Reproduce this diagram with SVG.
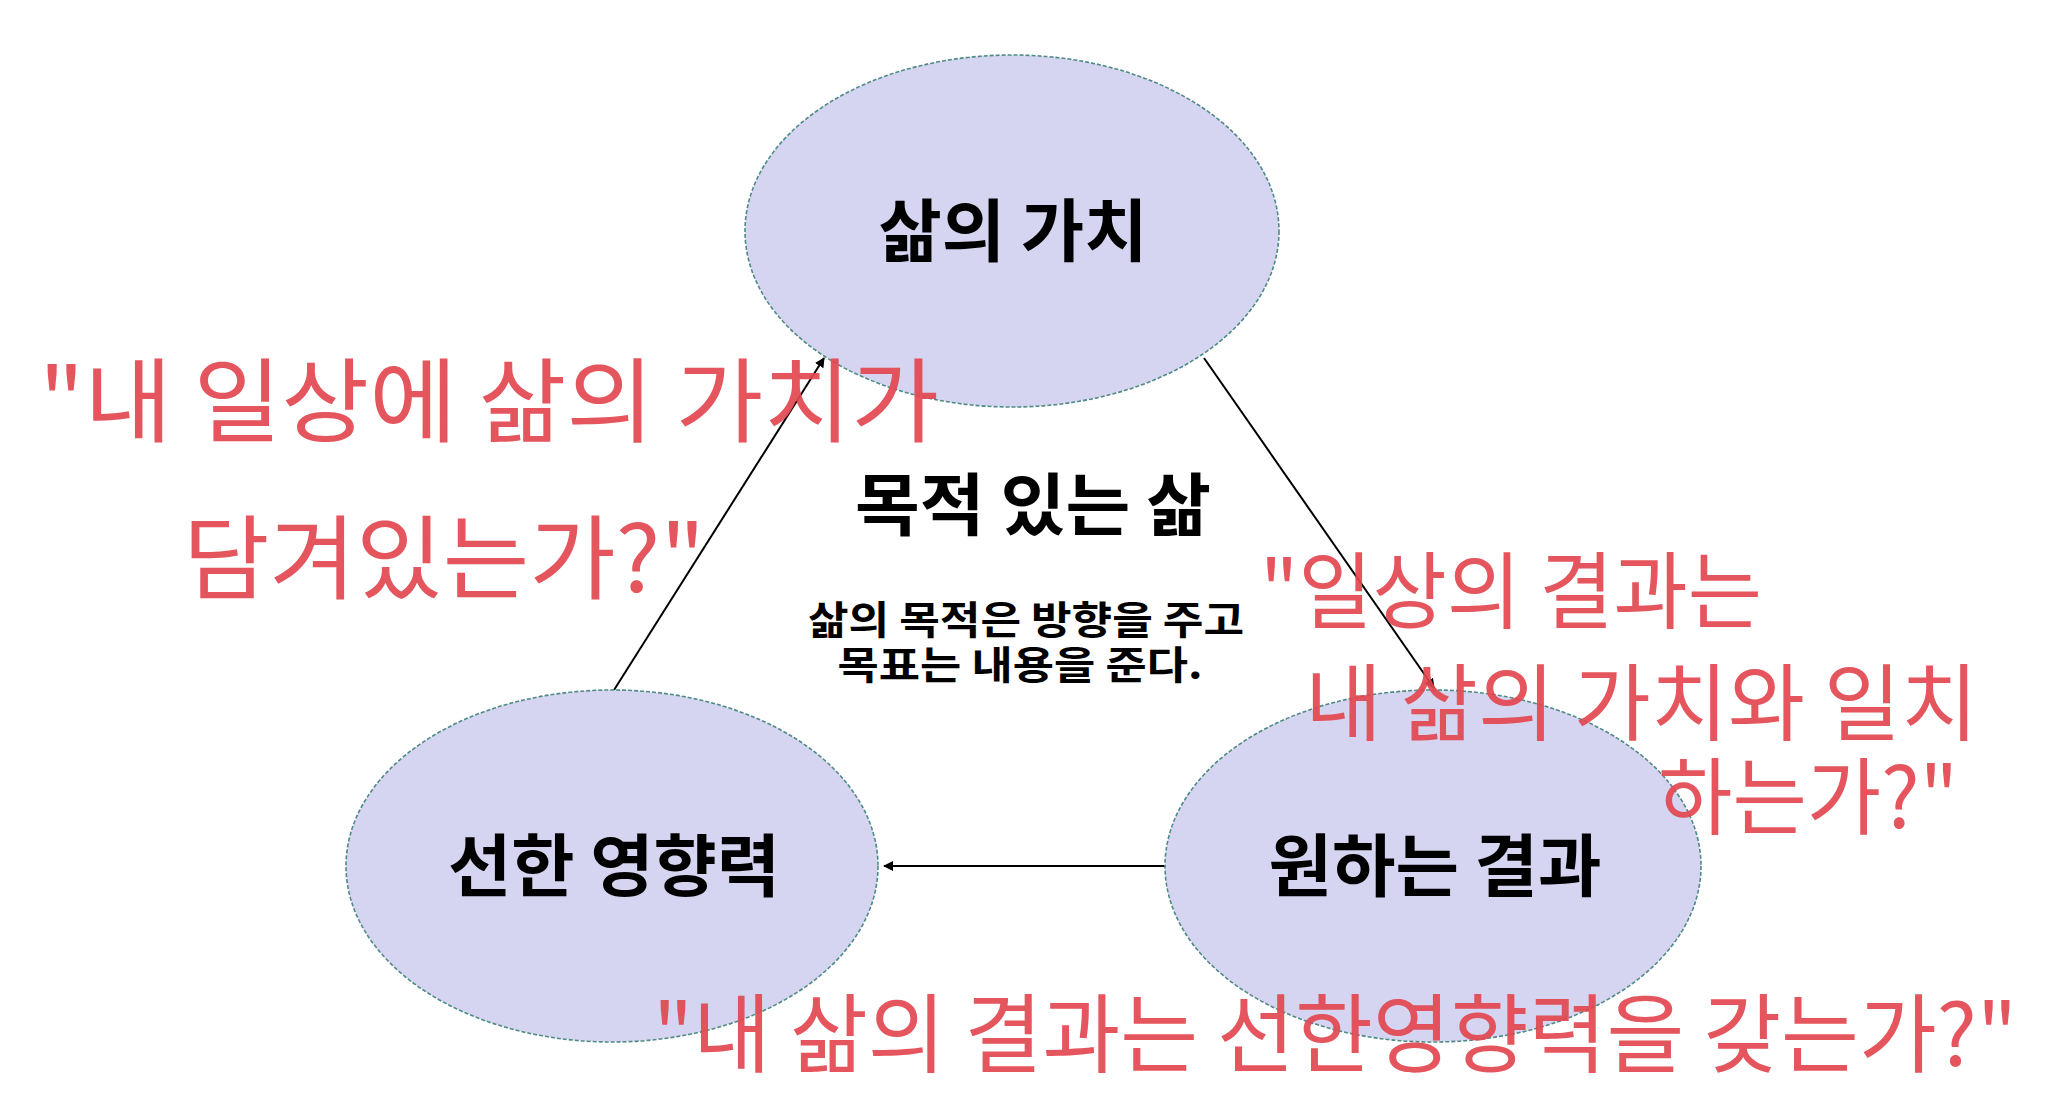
<svg xmlns="http://www.w3.org/2000/svg" width="2047" height="1108" viewBox="0 0 2047 1108">
<defs>
<style>
.node ellipse{fill:#d5d5f1;stroke:#4f8a86;stroke-width:1.6;stroke-dasharray:4 2}
.lbl{font-family:"Noto Sans CJK KR","Noto Sans",sans-serif;font-weight:700;fill:#000;text-anchor:middle}
.conn line{stroke:#000;stroke-width:2}
.hand{font-family:"Noto Sans CJK KR","Noto Sans",sans-serif;font-weight:400;fill:#e2474f;fill-opacity:0.92}
</style>
<marker id="arr" markerWidth="10" markerHeight="10" refX="9" refY="5" orient="auto" markerUnits="userSpaceOnUse" viewBox="0 0 10 10">
<path d="M0,0 L10,5 L0,10 z" fill="#000"/>
</marker>
</defs>
<rect width="2047" height="1108" fill="#fff"/>
<g id="connectors" class="conn">
<line x1="614" y1="690" x2="824" y2="358" marker-end="url(#arr)"/>
<line x1="1204" y1="358" x2="1434" y2="688" marker-end="url(#arr)"/>
<line x1="1166" y1="866" x2="884" y2="866" marker-end="url(#arr)"/>
</g>
<g id="node-value" class="node">
<ellipse cx="1012" cy="231" rx="267" ry="176"/>
<text class="lbl" x="1013" y="256" font-size="68" textLength="269" lengthAdjust="spacingAndGlyphs">삶의 가치</text>
</g>
<g id="node-influence" class="node">
<ellipse cx="612" cy="866" rx="266" ry="176"/>
<text class="lbl" x="614" y="891" font-size="68" textLength="332" lengthAdjust="spacingAndGlyphs">선한 영향력</text>
</g>
<g id="node-result" class="node">
<ellipse cx="1433" cy="866" rx="268" ry="176"/>
<text class="lbl" x="1435" y="891" font-size="68" textLength="333" lengthAdjust="spacingAndGlyphs">원하는 결과</text>
</g>
<g id="center-title">
<text class="lbl" x="1033" y="530" font-size="68" textLength="356" lengthAdjust="spacingAndGlyphs">목적 있는 삶</text>
<text class="lbl" font-size="39"><tspan x="1026" y="634" textLength="436" lengthAdjust="spacingAndGlyphs">삶의 목적은 방향을 주고</tspan><tspan x="1020" y="679" textLength="365" lengthAdjust="spacingAndGlyphs">목표는 내용을 준다.</tspan></text>
</g>
<g id="annotations">
<text class="hand" font-size="92"><tspan x="39" y="435" textLength="900" lengthAdjust="spacingAndGlyphs">"내 일상에 삶의 가치가</tspan><tspan x="183" y="592" textLength="522" lengthAdjust="spacingAndGlyphs">담겨있는가?"</tspan></text>
<text class="hand" font-size="84"><tspan x="1260" y="622" textLength="502" lengthAdjust="spacingAndGlyphs">"일상의 결과는</tspan><tspan x="1305" y="734" textLength="673" lengthAdjust="spacingAndGlyphs">내 삶의 가치와 일치</tspan><tspan x="1658" y="828" textLength="300" lengthAdjust="spacingAndGlyphs">하는가?"</tspan></text>
<text class="hand" x="653" y="1066" font-size="86" textLength="1364" lengthAdjust="spacingAndGlyphs">"내 삶의 결과는 선한영향력을 갖는가?"</text>
</g>
</svg>
